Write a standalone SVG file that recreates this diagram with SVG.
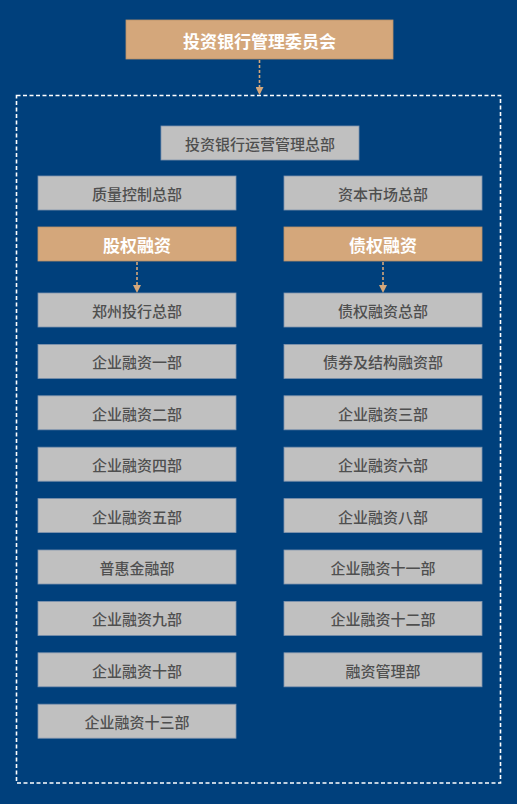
<svg xmlns="http://www.w3.org/2000/svg" width="517" height="804" viewBox="0 0 517 804">
<style>
.g rect{fill:#c0c0c0;stroke:#7f93ad;stroke-width:0.8}
.g text{font-family:"Noto Sans CJK SC","Noto Sans",sans-serif;font-size:15px;font-weight:500;fill:#4f4f4f;text-anchor:middle;dominant-baseline:central}
.t rect{fill:#d4a77b;stroke:#b9926a;stroke-width:0.8}
.t text{font-family:"Noto Sans CJK SC","Noto Sans",sans-serif;font-size:17px;font-weight:bold;fill:#ffffff;text-anchor:middle;dominant-baseline:central}
.c line{stroke:#d4a77b;stroke-width:1.6;stroke-dasharray:3 2}
</style>
<defs>
<marker id="ah" markerWidth="8" markerHeight="8" refX="7" refY="4" orient="auto" markerUnits="userSpaceOnUse">
<path d="M0,0 L8,4 L0,8 Z" fill="#d4a77b"/>
</marker>
</defs>
<rect x="0" y="0" width="517" height="804" fill="#00407c"/>
<rect id="frame" x="16.5" y="95.5" width="484" height="687.5" fill="none" stroke="#ffffff" stroke-width="1.6" stroke-dasharray="4 2.5"/>
<g id="connectors" class="c">
<line x1="259.5" y1="60" x2="259.5" y2="94" marker-end="url(#ah)"/>
<line x1="137" y1="262" x2="137" y2="292" marker-end="url(#ah)"/>
<line x1="383" y1="262" x2="383" y2="292" marker-end="url(#ah)"/>
</g>
<g id="n_committee" class="t"><rect x="126" y="20" width="267" height="39"/><text x="259.5" y="40">投资银行管理委员会</text></g>
<g id="n_ops" class="g"><rect x="161" y="126" width="198" height="34"/><text x="260" y="143.5">投资银行运营管理总部</text></g>
<g id="n_qc" class="g"><rect x="38" y="176" width="198" height="34"/><text x="137" y="193.5">质量控制总部</text></g>
<g id="n_cm" class="g"><rect x="284" y="176" width="198" height="34"/><text x="383" y="193.5">资本市场总部</text></g>
<g id="n_equity" class="t"><rect x="38" y="227" width="198" height="34"/><text x="137" y="244">股权融资</text></g>
<g id="n_debt" class="t"><rect x="284" y="227" width="198" height="34"/><text x="383" y="244">债权融资</text></g>
<g id="n_l1" class="g"><rect x="38" y="293" width="198" height="34"/><text x="137" y="310.5">郑州投行总部</text></g>
<g id="n_l2" class="g"><rect x="38" y="344.4" width="198" height="34"/><text x="137" y="361.9">企业融资一部</text></g>
<g id="n_l3" class="g"><rect x="38" y="395.8" width="198" height="34"/><text x="137" y="413.3">企业融资二部</text></g>
<g id="n_l4" class="g"><rect x="38" y="447.2" width="198" height="34"/><text x="137" y="464.7">企业融资四部</text></g>
<g id="n_l5" class="g"><rect x="38" y="498.6" width="198" height="34"/><text x="137" y="516.1">企业融资五部</text></g>
<g id="n_l6" class="g"><rect x="38" y="550" width="198" height="34"/><text x="137" y="567.5">普惠金融部</text></g>
<g id="n_l7" class="g"><rect x="38" y="601.4" width="198" height="34"/><text x="137" y="618.9">企业融资九部</text></g>
<g id="n_l8" class="g"><rect x="38" y="652.8" width="198" height="34"/><text x="137" y="670.3">企业融资十部</text></g>
<g id="n_l9" class="g"><rect x="38" y="704.2" width="198" height="34"/><text x="137" y="721.7">企业融资十三部</text></g>
<g id="n_r1" class="g"><rect x="284" y="293" width="198" height="34"/><text x="383" y="310.5">债权融资总部</text></g>
<g id="n_r2" class="g"><rect x="284" y="344.4" width="198" height="34"/><text x="383" y="361.9">债券及结构融资部</text></g>
<g id="n_r3" class="g"><rect x="284" y="395.8" width="198" height="34"/><text x="383" y="413.3">企业融资三部</text></g>
<g id="n_r4" class="g"><rect x="284" y="447.2" width="198" height="34"/><text x="383" y="464.7">企业融资六部</text></g>
<g id="n_r5" class="g"><rect x="284" y="498.6" width="198" height="34"/><text x="383" y="516.1">企业融资八部</text></g>
<g id="n_r6" class="g"><rect x="284" y="550" width="198" height="34"/><text x="383" y="567.5">企业融资十一部</text></g>
<g id="n_r7" class="g"><rect x="284" y="601.4" width="198" height="34"/><text x="383" y="618.9">企业融资十二部</text></g>
<g id="n_r8" class="g"><rect x="284" y="652.8" width="198" height="34"/><text x="383" y="670.3">融资管理部</text></g>
</svg>
